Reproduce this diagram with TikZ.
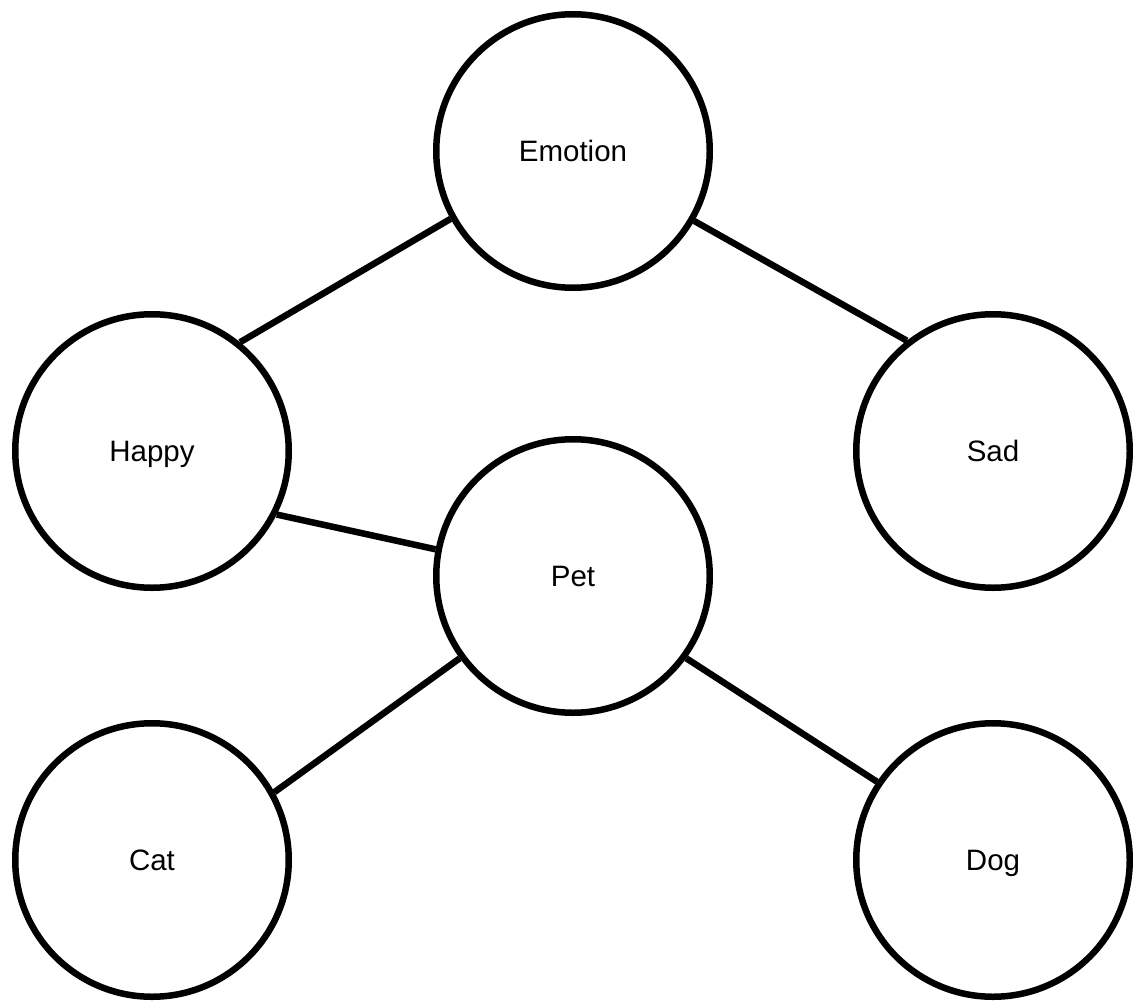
\documentclass[tikz,border=0pt]{standalone}
\usepackage{fontspec}
\setmainfont{Liberation Sans}
\begin{document}
\begin{tikzpicture}[x=1pt,y=-1pt,
  circ/.style={draw=black,line width=6.5pt,circle,minimum size=273.5pt,inner sep=0pt,
    text height=21pt,text depth=0pt,font=\fontsize{29.5}{34}\selectfont},
  edge/.style={line width=6.5pt}]
\useasboundingbox (0,0) rectangle (1133,1001);
\node[circ] (emotion) at (573,151) {Emotion};
\node[circ] (happy) at (152,451) {Happy};
\node[circ] (sad) at (993,451) {Sad};
\node[circ] (pet) at (573,576) {Pet};
\node[circ] (cat) at (152,860) {Cat};
\node[circ] (dog) at (993,860) {Dog};
\draw[edge] (emotion.209.3) -- (happy.51.1);
\draw[edge] (emotion.330.9) -- (sad.128.5);
\draw[edge] (happy.333.3) -- (pet.169.5);
\draw[edge] (pet.216.3) -- (cat.29.6);
\draw[edge] (pet.324.3) -- (dog.146.9);
\end{tikzpicture}
\end{document}
